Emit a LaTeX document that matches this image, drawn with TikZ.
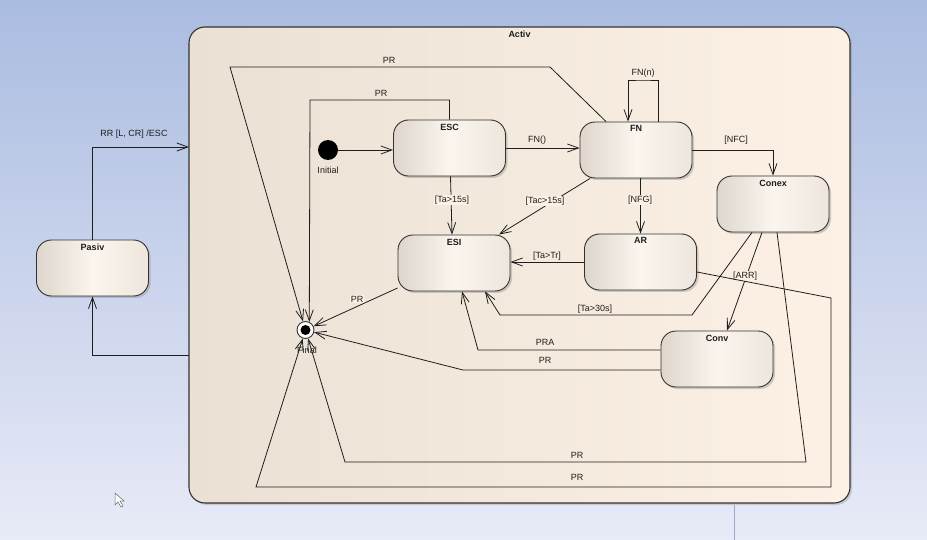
\documentclass[tikz,border=0pt]{standalone}
\usepackage{fontspec}
\setmainfont{Liberation Sans}
\usetikzlibrary{arrows.meta,calc,shadows}
\definecolor{bgtop}{RGB}{170,188,224}
\definecolor{bgbot}{RGB}{232,234,247}
\definecolor{frameL}{RGB}{234,225,212}
\definecolor{frameR}{RGB}{252,241,228}
\definecolor{stL}{RGB}{222,214,204}
\definecolor{stM}{RGB}{251,245,238}
\definecolor{stR}{RGB}{238,230,220}
\definecolor{ink}{RGB}{30,30,30}
\definecolor{edge}{RGB}{50,50,50}
\definecolor{rule}{RGB}{160,168,200}

\begin{document}
\begin{tikzpicture}[x=1pt,y=-1pt,
  lbl/.style={font=\fontsize{9}{10}\selectfont, inner sep=1pt, text=ink},
  lblbg/.style={lbl, fill=frameR},
  stname/.style={font=\bfseries\fontsize{9}{10}\selectfont, anchor=north, yshift=-3pt, inner sep=1pt, text=ink},
  state/.style={rectangle, rounded corners=15pt, draw=edge, line width=0.9pt,
    minimum width=112pt, minimum height=56pt,
    left color=stL, right color=stR, middle color=stM,
    drop shadow={shadow xshift=2pt, shadow yshift=-2pt, opacity=0.35}},
  frame/.style={rectangle, rounded corners=16pt, draw=edge, line width=1.1pt,
    minimum width=661pt, minimum height=476pt,
    left color=frameL, right color=frameR,
    drop shadow={shadow xshift=2pt, shadow yshift=-2pt, opacity=0.3}},
  tr/.style={draw=ink, line width=0.8pt, -{Straight Barb[length=11pt,width=8pt]}},
  startdot/.style={circle, fill=black, minimum size=20pt, inner sep=0pt},
  enddot/.style={circle, draw=edge, fill=white, line width=0.9pt, minimum size=17pt, inner sep=0pt,
    path picture={\fill[black] (path picture bounding box.center) circle (5pt);}}
]
\useasboundingbox (0,0) rectangle (927,540);
% backdrop
\shade[top color=bgtop, bottom color=bgbot] (0,0) rectangle (927,540);
\draw[rule, line width=0.8pt] (734,505) -- (734,540);

% composite state
\node[frame, label={[stname]north:Activ}] (activ) at (519.5,265) {};

% states
\node[state, label={[stname]north:Pasiv}] (pasiv) at (92.5,268) {};
\node[state, label={[stname]north:ESC}]   (esc)   at (449.5,148) {};
\node[state, label={[stname]north:FN}]    (fn)    at (636,150) {};
\node[state, label={[stname]north:Conex}] (conex) at (773,204) {};
\node[state, label={[stname]north:ESI}]   (esi)   at (454,263) {};
\node[state, label={[stname]north:AR}]    (ar)    at (640.5,262) {};
\node[state, label={[stname]north:Conv}]  (conv)  at (717,359) {};

\node[startdot] (init) at (328,150) {};
\node[lbl] (initlbl) at (328,170) {Initial};
\node[enddot] (final) at (305.5,330) {};

% bend points
\coordinate (pa) at (189,147);
\coordinate (pb) at (189,355);
\coordinate (loopc) at (643,80);
\coordinate (t30a) at (692,315);
\coordinate (t30b) at (500,315);
\coordinate (praa) at (478,350);
\coordinate (prb) at (463,370);
\coordinate (escpr) at (310,100);
\coordinate (topa) at (550,67);
\coordinate (topb) at (230,67);
\coordinate (bota) at (806,462);
\coordinate (botb) at (345,462);
\coordinate (ara) at (831,298);
\coordinate (arb) at (831,487);
\coordinate (arc) at (256,487);

% transitions
\draw[tr] (pasiv.north) |- (pa) node[lbl] (l1) at (134,134) {RR [L, CR] /ESC};
\draw[tr] (pb) -| (pasiv.south);
\draw[tr] (init.east) -- (init -| esc.west);
\draw[tr] (esc.east) -- (esc.east -| fn.west) node[lbl] (l2) at (537,140) {FN()};
\draw[tr] ($(fn.north)+(22,0)$) |- (loopc) -| ($(fn.north)+(-8,0)$) node[lbl] (l3) at (643,73) {FN(n)};
\draw[tr] (fn.east) -| (conex.north) node[lbl] (l4) at (736,140) {[NFC]};
\draw[tr] (ar.north |- fn.south) -- (ar.north) node[lblbg] (l5) at (640,200) {[NFG]};
\draw[tr] ($(fn.south)+(-46,0)$) -- ($(esi.north)+(45,0)$) node[lblbg] (l6) at (545,201) {[Tac>15s]};
\draw[tr] ($(esc.south)+(1,0)$) -- ($(esi.north)+(-2,0)$) node[lblbg] (l7) at (452,200) {[Ta>15s]};
\draw[tr] (ar.west) -- (ar.west -| esi.east) node[lbl] (l8) at (547,256) {[Ta>Tr]};
\draw[tr] ($(conex.south)+(-21,0)$) -- (t30a) -- (t30b) -- ($(esi.south)+(31,0)$) node[lbl] (l9) at (595,309) {[Ta>30s]};
\draw[tr] ($(conex.south)+(-11,0)$) -- ($(conv.north)+(10,0)$) node[lblbg] (l10) at (745,276) {[ARR]};
\draw[tr] ($(conv.west)+(0,-9)$) -- (praa) -- ($(esi.south)+(8,0)$) node[lbl] (l11) at (545,342) {PRA};
\draw[tr] ($(conv.west)+(0,11)$) -- (prb) -- (final) node[lbl] (l12) at (545,360) {PR};
\draw[tr] ($(esi.west)+(0,25)$) -- (final) node[lblbg] (l13) at (357,299) {PR};
\draw[tr] (esc.north) |- (escpr) -- (final.65) node[lbl] (l14) at (381,93) {PR};
\draw[tr] ($(fn.north)+(-30,0)$) -- (topa) -- (topb) -- (final) node[lbl] (l15) at (389,60) {PR};
\draw[tr] ($(conex.south)+(4,0)$) -- (bota) -- (botb) -- (final) node[lbl] (l16) at (577,455) {PR};
\draw[tr] ($(ar.east)+(0,10)$) -- (ara) -- (arb) -- (arc) -- (final) node[lbl] (l17) at (577,477) {PR};

\node[lbl] (finallbl) at (307,350) {Final};

% pointer
\filldraw[fill=white, draw=black!60, line width=0.5pt]
  (115,493) -- (115,505) -- (118,502) -- (121,507) -- (123,506) -- (120,501) -- (124,501) -- cycle;
\end{tikzpicture}
\end{document}
